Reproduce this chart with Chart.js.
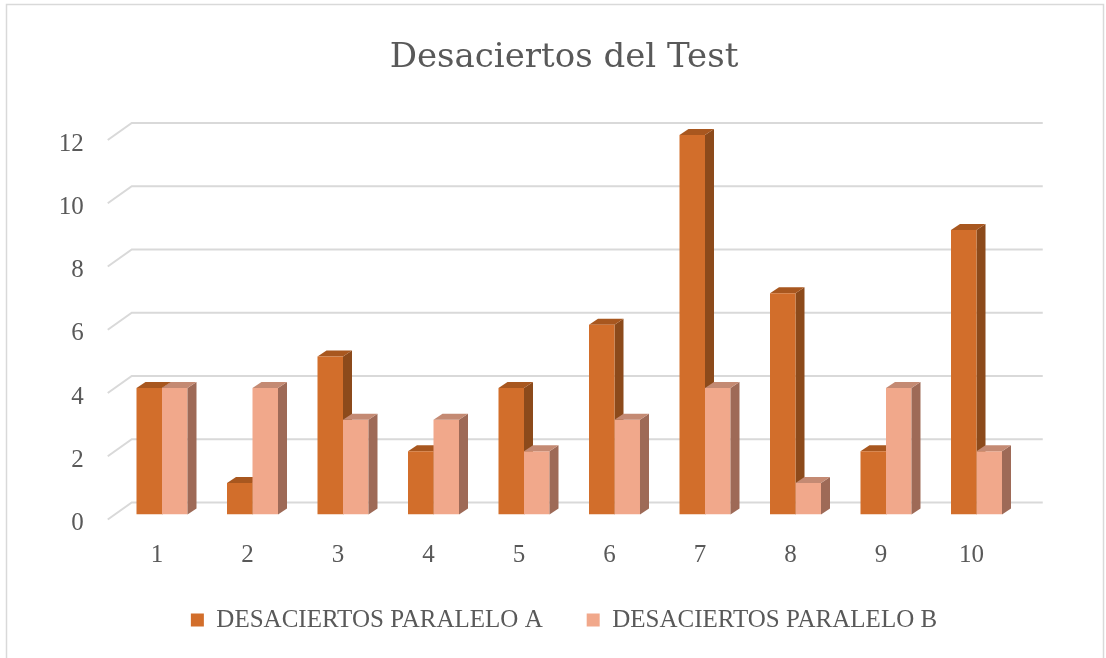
<!DOCTYPE html>
<html>
<head>
<meta charset="utf-8">
<script src="https://cdn.jsdelivr.net/npm/chart.js@4"></script>
<style>
html,body{margin:0;padding:0;background:#fff;}
#wrap{width:1106px;height:658px;position:relative;}
</style>
</head>
<body>
<div id="wrap"><canvas id="c" width="1106" height="658"></canvas></div>
<script>
const categories = ['1','2','3','4','5','6','7','8','9','10'];
const seriesA = [4,1,5,2,4,6,12,7,2,9];
const seriesB = [4,4,3,3,2,3,4,1,4,2];
const yTicks = [0,2,4,6,8,10,12];
const seriesNames = ['DESACIERTOS PARALELO A','DESACIERTOS PARALELO B'];

const DX = 9, DY = 6;
const faceColors = [
  {side:'#8C4A1B', top:'#A8571F'},
  {side:'#9E6A57', top:'#C48A73'}
];

function drawFaces(chart, di){
  const ctx = chart.ctx;
  const meta = chart.getDatasetMeta(di);
  const col = faceColors[di];
  ctx.save();
  meta.data.forEach(el=>{
    const l = el.x - el.width/2, r = el.x + el.width/2, t = el.y, b = el.base;
    ctx.fillStyle = col.side;
    ctx.beginPath();
    ctx.moveTo(r,t); ctx.lineTo(r+DX,t-DY); ctx.lineTo(r+DX,b-DY); ctx.lineTo(r,b); ctx.closePath();
    ctx.fill();
    ctx.fillStyle = col.top;
    ctx.beginPath();
    ctx.moveTo(l,t); ctx.lineTo(l+DX,t-DY); ctx.lineTo(r+DX,t-DY); ctx.lineTo(r,t); ctx.closePath();
    ctx.fill();
  });
  ctx.restore();
}

const frame = {
  id:'frame',
  beforeDraw(chart){
    const ctx = chart.ctx;
    ctx.save();
    ctx.fillStyle='#fff';
    ctx.fillRect(0,0,chart.width,chart.height);
    ctx.strokeStyle='#d9d9d9';
    ctx.lineWidth=1.5;
    ctx.strokeRect(6.5,4.5,1097,700);
    ctx.restore();
  },
  beforeDatasetsDraw(chart){
    const ctx = chart.ctx, y = chart.scales.y, a = chart.chartArea;
    ctx.save();
    ctx.strokeStyle='#d9d9d9';
    ctx.lineWidth=2;
    yTicks.forEach(v=>{
      const p = y.getPixelForValue(v);
      ctx.beginPath();
      ctx.moveTo(a.left-9, p+5);
      ctx.lineTo(a.left+15, p-12);
      ctx.lineTo(a.right+21, p-12);
      ctx.stroke();
    });
    ctx.restore();
    // side/top faces of series A go behind series B's front faces
    drawFaces(chart, 0);
  },
  afterDatasetsDraw(chart){
    drawFaces(chart, 1);
  }
};

new Chart(document.getElementById('c'), {
  type:'bar',
  data:{
    labels: categories,
    datasets:[
      {label: seriesNames[0], data: seriesA, backgroundColor:'#D26E2B', borderWidth:0,
       categoryPercentage:0.5635, barPercentage:1.0},
      {label: seriesNames[1], data: seriesB, backgroundColor:'#F1A88B', borderWidth:0,
       categoryPercentage:0.5635, barPercentage:1.0}
    ]
  },
  options:{
    responsive:false,
    animation:false,
    layout:{padding:{left:22,right:0,top:10,bottom:15.5}},
    plugins:{
      title:{display:true, text:'Desaciertos del Test', color:'#595959',
        font:{family:'DejaVu Serif', size:34, weight:'normal'},
        padding:{top:27.6, bottom:56.6}},
      legend:{display:true, position:'bottom',
        labels:{color:'#595959', font:{family:'Liberation Serif', size:25},
          boxWidth:13, boxHeight:13, padding:44}},
      tooltip:{enabled:false}
    },
    scales:{
      x:{
        grid:{display:false, drawTicks:false}, border:{display:false},
        ticks:{color:'#595959', font:{family:'Liberation Serif', size:25}, padding:25.5, labelOffset:-5, maxRotation:0},
        afterFit(scale){ scale.height = 49; }
      },
      y:{
        min:0, max:12,
        grid:{display:false, drawTicks:false}, border:{display:false},
        ticks:{stepSize:2, color:'#595959', font:{family:'Liberation Serif', size:25}, padding:33, labelOffset:9},
        afterFit(scale){ scale.width = 94.75; }
      },
      yR:{
        position:'right', min:0, max:12,
        grid:{display:false, drawTicks:false}, border:{display:false},
        ticks:{display:false},
        afterFit(scale){ scale.width = 84.25; }
      }
    }
  },
  plugins:[frame]
});
</script>
</body>
</html>
